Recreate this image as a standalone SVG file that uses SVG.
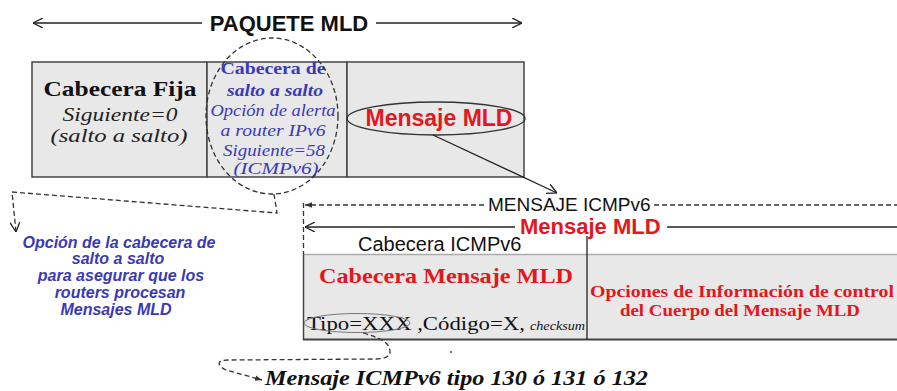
<svg xmlns="http://www.w3.org/2000/svg" width="897" height="391" viewBox="0 0 897 391">
<style>
.serif{font-family:"Liberation Serif","Times New Roman",serif}
.sans{font-family:"Liberation Sans",Arial,sans-serif}
.blue{fill:#3a3ab5}
.red{fill:#e3171d}
.box{fill:#e8e8e8;stroke:#444;stroke-width:1.5}
.ln{stroke:#222;stroke-width:1.3;fill:none}
.dash{stroke:#333;stroke-width:1.3;fill:none;stroke-dasharray:5 3}
.mid{text-anchor:middle}
</style>
<defs>
<marker id="open" viewBox="0 0 10 10" refX="10" refY="5" markerWidth="10" markerHeight="10" markerUnits="userSpaceOnUse" orient="auto-start-reverse">
<path d="M0,0 L10,5 L0,10" fill="none" stroke="#222" stroke-width="1.3"/>
</marker>
<marker id="tri" viewBox="0 0 10 10" refX="10" refY="5" markerWidth="7" markerHeight="7" markerUnits="userSpaceOnUse" orient="auto-start-reverse">
<path d="M0,1 L10,5 L0,9 Z" fill="#333"/>
</marker>
</defs>

<g id="paquete-mld">
<line class="ln" x1="202" y1="23" x2="33" y2="23" marker-end="url(#open)"/>
<line class="ln" x1="376" y1="23" x2="522" y2="23" marker-end="url(#open)"/>
<text class="sans mid" x="289" y="31" font-size="22" font-weight="bold" fill="#111">PAQUETE MLD</text>
</g>

<g id="cabecera-fija">
<rect class="box" x="32" y="62" width="175" height="115"/>
<text class="serif mid" x="120" y="96" font-size="21" font-weight="bold" fill="#111" textLength="153" lengthAdjust="spacingAndGlyphs">Cabecera Fija</text>
<text class="serif mid" x="120" y="121" font-size="19" font-style="italic" fill="#222" textLength="115" lengthAdjust="spacingAndGlyphs">Siguiente=0</text>
<text class="serif mid" x="119" y="142" font-size="19" font-style="italic" fill="#222" textLength="137" lengthAdjust="spacingAndGlyphs">(salto a salto)</text>
</g>

<g id="cabecera-salto">
<rect class="box" x="207" y="62" width="140" height="115"/>
<text class="serif mid blue" x="273" y="74" font-size="16" font-weight="bold" textLength="105" lengthAdjust="spacingAndGlyphs">Cabecera de</text>
<text class="serif mid blue" x="275" y="96" font-size="16" font-weight="bold" font-style="italic" textLength="96" lengthAdjust="spacingAndGlyphs">salto a salto</text>
<text class="serif mid blue" x="273" y="116" font-size="16" font-style="italic" textLength="125" lengthAdjust="spacingAndGlyphs">Opción de alerta</text>
<text class="serif mid blue" x="273" y="136" font-size="16" font-style="italic" textLength="105" lengthAdjust="spacingAndGlyphs">a router IPv6</text>
<text class="serif mid blue" x="274" y="156" font-size="16" font-style="italic" textLength="102" lengthAdjust="spacingAndGlyphs">Siguiente=58</text>
<text class="serif mid blue" x="276" y="174" font-size="16" font-style="italic" textLength="85" lengthAdjust="spacingAndGlyphs">(ICMPv6)</text>
<ellipse class="dash" cx="272" cy="116" rx="66" ry="78" stroke-dasharray="6 4"/>
</g>

<g id="mensaje-mld-top">
<rect class="box" x="347" y="62" width="177" height="115"/>
<ellipse cx="436" cy="118.5" rx="89" ry="16.5" fill="none" stroke="#333" stroke-width="1.3"/>
<text class="sans mid red" x="439" y="126" font-size="23" font-weight="bold">Mensaje MLD</text>
</g>

<g id="nota-opcion">
<text class="sans mid blue" x="119" y="248" font-size="16" font-weight="bold" font-style="italic">Opción de la cabecera de</text>
<text class="sans mid blue" x="118" y="264" font-size="16" font-weight="bold" font-style="italic">salto a salto</text>
<text class="sans mid blue" x="121" y="281" font-size="16" font-weight="bold" font-style="italic">para asegurar que los</text>
<text class="sans mid blue" x="120" y="298" font-size="16" font-weight="bold" font-style="italic">routers procesan</text>
<text class="sans mid blue" x="116" y="315" font-size="16" font-weight="bold" font-style="italic">Mensajes MLD</text>
</g>

<g id="mensaje-icmpv6">
<text class="sans" x="488" y="211" font-size="19" fill="#111">MENSAJE ICMPv6</text>
<text class="sans red" x="520" y="234" font-size="22" font-weight="bold">Mensaje MLD</text>
<text class="sans" x="358" y="251" font-size="20" fill="#111">Cabecera ICMPv6</text>
</g>

<g id="cuerpo-icmpv6">
<rect x="303" y="254" width="600" height="86" fill="#e8e8e8"/>
<line x1="303" y1="254.5" x2="897" y2="254.5" stroke="#aaa" stroke-width="1.5"/>
<line x1="303" y1="339.5" x2="897" y2="339.5" stroke="#444" stroke-width="2"/>
<line x1="303.5" y1="254" x2="303.5" y2="340" stroke="#444" stroke-width="1.5"/>
<line x1="587" y1="236" x2="587" y2="340" stroke="#222" stroke-width="1.3"/>
<text class="serif mid red" x="446" y="283" font-size="21" font-weight="bold" textLength="254" lengthAdjust="spacingAndGlyphs">Cabecera Mensaje MLD</text>
<text class="serif mid red" x="742" y="297" font-size="17" font-weight="bold" textLength="304" lengthAdjust="spacingAndGlyphs">Opciones de Información de control</text>
<text class="serif mid red" x="740" y="316" font-size="17" font-weight="bold" textLength="240" lengthAdjust="spacingAndGlyphs">del Cuerpo del Mensaje MLD</text>
<text class="serif" x="307" y="330" font-size="19" fill="#111" textLength="218" lengthAdjust="spacingAndGlyphs">Tipo=XXX ,Código=X,</text>
<text class="serif" x="530" y="330" font-size="12.5" font-style="italic" fill="#111" textLength="55" lengthAdjust="spacingAndGlyphs">checksum</text>
<ellipse cx="357" cy="323" rx="53" ry="9.5" fill="none" stroke="#777" stroke-width="1"/>
</g>

<g id="nota-tipo">
<text class="serif" x="265" y="385" font-size="22" font-weight="bold" font-style="italic" fill="#111" textLength="383" lengthAdjust="spacingAndGlyphs">Mensaje ICMPv6 tipo 130 ó 131 ó 132</text>
<circle cx="451" cy="352" r="1" fill="#444"/>
</g>

<g id="connectors">
<line class="ln" x1="433" y1="135" x2="557" y2="193" marker-end="url(#open)"/>
<path class="dash" d="M274,194 L277,213 L12,192 L16,232" marker-end="url(#open)"/>
<line class="dash" x1="303.5" y1="203" x2="303.5" y2="254"/>
<line class="dash" x1="484" y1="205" x2="305" y2="205" stroke-dasharray="4 3" marker-end="url(#tri)"/>
<line class="dash" x1="654" y1="205" x2="897" y2="205" stroke-dasharray="4 3"/>
<line class="ln" x1="515" y1="227" x2="305" y2="227" marker-end="url(#open)"/>
<line class="ln" x1="667" y1="227" x2="897" y2="227"/>
<path class="dash" d="M363,333 C380,338 390,342 390,352 C390,358 382,359 375,359 L228,360 C215,360 218,366 226,370 L262,380" marker-end="url(#tri)"/>
</g>
</svg>
